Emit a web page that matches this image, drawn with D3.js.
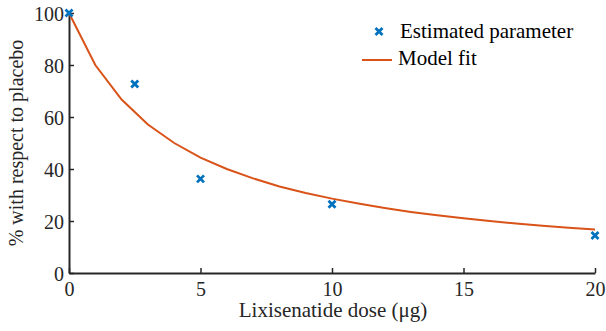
<!DOCTYPE html>
<html>
<head>
<meta charset="utf-8">
<script src="https://cdn.jsdelivr.net/npm/d3@7"></script>
<style>
  html, body { margin: 0; padding: 0; background: #fff; }
  svg { display: block; }
  svg text { font-family: "Liberation Serif", "Times New Roman", Times, "DejaVu Serif", serif; }
</style>
</head>
<body>
<svg id="chart" width="606" height="331"></svg>
<script>
// Estimated inhibition at each dose (markers)
const estDose = [0, 2.5, 5, 10, 20];
const estValue = [100, 72.7, 36.2, 26.4, 14.4];

// Fitted curve, sampled at each whole microgram
const fitDose = [0, 1, 2, 3, 4, 5, 6, 7, 8, 9, 10, 11, 12, 13, 14, 15, 16, 17, 18, 19, 20];
const fitValue = [100, 80, 66.7, 57.1, 50, 44.4, 40, 36.4, 33.3, 30.8, 28.6,
                  26.7, 25, 23.5, 22.2, 21.1, 20, 19, 18.2, 17.4, 16.7];

const xTicks = [0, 5, 10, 15, 20];
const yTicks = [0, 20, 40, 60, 80, 100];

const blue = "#0072BD";
const orange = "#D95319";
const ink = "#262626";
const serif = "'Liberation Serif', 'Times New Roman', Times, 'DejaVu Serif', serif";

const svg = d3.select("#chart");
const x = d3.scaleLinear().domain([0, 20]).range([69, 595]);
const y = d3.scaleLinear().domain([0, 100]).range([273, 13]);

// Axes with inward ticks
const xAxis = svg.append("g").attr("transform", `translate(0,${y(0)})`)
  .call(d3.axisBottom(x).tickValues(xTicks).tickSizeInner(-5).tickSizeOuter(0).tickPadding(9));
const yAxis = svg.append("g").attr("transform", `translate(${x(0)},0)`)
  .call(d3.axisLeft(y).tickValues(yTicks).tickSizeInner(-5).tickSizeOuter(0).tickPadding(5));

[xAxis, yAxis].forEach(g => {
  g.attr("font-family", serif);
  g.select(".domain").attr("stroke", ink).attr("stroke-width", 2);
  g.selectAll(".tick line").attr("stroke", ink).attr("stroke-width", 1.5);
  g.selectAll(".tick text").attr("fill", ink)
    .style("font-family", serif).style("font-size", "20px");
});
yAxis.selectAll(".tick text").attr("dy", "0.35em");

// Model fit line
const line = d3.line().x((d, i) => x(fitDose[i])).y(d => y(d));
svg.append("path").datum(fitValue)
  .attr("d", line)
  .attr("fill", "none").attr("stroke", orange).attr("stroke-width", 2);

// Cross markers
function cross(g, cx, cy) {
  const s = 3.5;
  g.append("path")
    .attr("d", `M${cx - s},${cy - s}L${cx + s},${cy + s}M${cx - s},${cy + s}L${cx + s},${cy - s}`)
    .attr("stroke", blue).attr("stroke-width", 2.8).attr("fill", "none");
}
const marks = svg.append("g");
estValue.forEach((v, i) => cross(marks, x(estDose[i]), y(v)));

// Axis titles
svg.append("text")
  .attr("x", 333).attr("y", 317)
  .attr("text-anchor", "middle").attr("fill", ink)
  .style("font-family", serif).style("font-size", "21px")
  .text("Lixisenatide dose (μg)");

svg.append("text")
  .attr("transform", `translate(23,${y(50)}) rotate(-90)`)
  .attr("text-anchor", "middle").attr("fill", ink)
  .style("font-family", serif).style("font-size", "20px")
  .text("% with respect to placebo");

// Legend
const legend = svg.append("g");
cross(legend, 379, 31.5);
legend.append("text").attr("x", 400).attr("y", 38).attr("fill", "#000")
  .style("font-family", serif).style("font-size", "21px").text("Estimated parameter");
legend.append("line").attr("x1", 362).attr("x2", 392).attr("y1", 60).attr("y2", 60)
  .attr("stroke", orange).attr("stroke-width", 2);
legend.append("text").attr("x", 398).attr("y", 65).attr("fill", "#000")
  .style("font-family", serif).style("font-size", "21px").text("Model fit");
</script>
</body>
</html>
